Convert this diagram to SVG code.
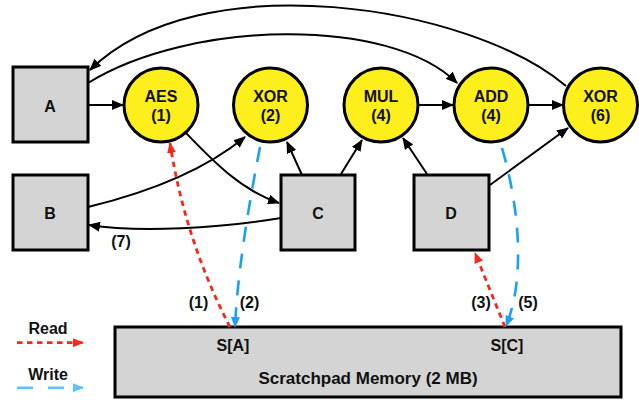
<svg xmlns="http://www.w3.org/2000/svg" width="639" height="400" viewBox="0 0 639 400">
  <style>
    .box { fill: #d4d4d4; stroke: #000; stroke-width: 3; }
    .op { fill: #fdef1b; stroke: #000; stroke-width: 3; }
    text { font-family: "Liberation Sans", Arial, Helvetica, sans-serif; font-weight: bold; fill: #111; text-anchor: middle; }
    .t16 { font-size: 16px; }
    .t17 { font-size: 17px; }
    .edge { fill: none; stroke: #000; stroke-width: 2; marker-end: url(#ah); }
    .read { fill: none; stroke: #f5281c; stroke-width: 2.8; stroke-dasharray: 5.5 4.5; marker-end: url(#ahRed); }
    .write { fill: none; stroke: #1ba0f2; stroke-width: 2.6; stroke-dasharray: 15 12; marker-end: url(#ahBlue); }
    .writeKey { fill: none; stroke: #5bc5fa; stroke-width: 2.6; stroke-dasharray: 16 15; marker-end: url(#ahBlueKey); }
  </style>
  <defs>
    <marker id="ah" viewBox="0 0 12 10" refX="11" refY="5" markerWidth="12" markerHeight="10" orient="auto" markerUnits="userSpaceOnUse">
      <path d="M0,0 L12,5 L0,10 z" fill="#000"/>
    </marker>
    <marker id="ahRed" viewBox="0 0 11 9" refX="10" refY="4.5" markerWidth="11" markerHeight="9" orient="auto" markerUnits="userSpaceOnUse">
      <path d="M0,0 L11,4.5 L0,9 z" fill="#f5281c"/>
    </marker>
    <marker id="ahBlue" viewBox="0 0 11 9" refX="10" refY="4.5" markerWidth="11" markerHeight="9" orient="auto" markerUnits="userSpaceOnUse">
      <path d="M0,0 L11,4.5 L0,9 z" fill="#1ba0f2"/>
    </marker>
    <marker id="ahBlueKey" viewBox="0 0 11 9" refX="10" refY="4.5" markerWidth="11" markerHeight="9" orient="auto" markerUnits="userSpaceOnUse">
      <path d="M0,0 L11,4.5 L0,9 z" fill="#5bc5fa"/>
    </marker>
  </defs>

  <!-- scratchpad memory -->
  <g id="memory">
    <rect class="box" x="115" y="327" width="506" height="70"/>
    <text class="t16" x="233" y="351">S[A]</text>
    <text class="t16" x="507" y="351">S[C]</text>
    <text class="t17" x="368" y="384">Scratchpad Memory (2 MB)</text>
  </g>

  <!-- input blocks -->
  <g id="node-A">
    <rect class="box" x="13" y="67" width="75" height="75"/>
    <text class="t16" x="50" y="112">A</text>
  </g>
  <g id="node-B">
    <rect class="box" x="13" y="175" width="75" height="75"/>
    <text class="t16" x="50" y="219">B</text>
  </g>
  <g id="node-C">
    <rect class="box" x="281" y="175" width="74" height="75"/>
    <text class="t16" x="318" y="219">C</text>
  </g>
  <g id="node-D">
    <rect class="box" x="414" y="175" width="75" height="75"/>
    <text class="t16" x="451" y="219">D</text>
  </g>

  <!-- operations -->
  <g id="op-aes">
    <circle class="op" cx="161" cy="105" r="37"/>
    <text class="t16" x="161" y="101.5">AES</text>
    <text class="t16" x="161" y="121">(1)</text>
  </g>
  <g id="op-xor2">
    <circle class="op" cx="270.5" cy="105" r="37"/>
    <text class="t16" x="270.5" y="101.5">XOR</text>
    <text class="t16" x="270.5" y="121">(2)</text>
  </g>
  <g id="op-mul">
    <circle class="op" cx="381" cy="105" r="37"/>
    <text class="t16" x="381" y="101.5">MUL</text>
    <text class="t16" x="381" y="121">(4)</text>
  </g>
  <g id="op-add">
    <circle class="op" cx="491" cy="105" r="37"/>
    <text class="t16" x="491" y="101.5">ADD</text>
    <text class="t16" x="491" y="121">(4)</text>
  </g>
  <g id="op-xor6">
    <circle class="op" cx="600.5" cy="105" r="37"/>
    <text class="t16" x="600.5" y="101.5">XOR</text>
    <text class="t16" x="600.5" y="121">(6)</text>
  </g>

  <!-- connectors -->
  <g id="connectors">
    <path class="edge" d="M88,105 L123,105"/>
    <path class="edge" d="M419,105 L453,105"/>
    <path class="edge" d="M529,105 L563,105"/>
    <path class="edge" d="M88,83 C190,20 390,16 457,83"/>
    <path class="edge" d="M566,86 C470,5 200,-38 90,70"/>
    <path class="edge" d="M88,207 C150,192 205,170 245,137"/>
    <path class="edge" d="M186,133 C210,158 240,190 279,203"/>
    <path class="edge" d="M281,218 C220,228 140,233 89,225"/>
    <path class="edge" d="M302,175 L287,142"/>
    <path class="edge" d="M341,174 L362,140"/>
    <path class="edge" d="M427,174 L403,138"/>
    <path class="edge" d="M490,185 L568,128"/>

    <path class="read" d="M230,327 Q185,240 170,143"/>
    <path class="read" d="M505,327 L475,253"/>
    <path class="write" d="M260,147 Q238,260 235,327"/>
    <path class="write" d="M502,148 C520,210 525,280 506,326"/>

    <text class="t16" x="121" y="246.5">(7)</text>
    <text class="t16" x="198.5" y="308">(1)</text>
    <text class="t16" x="249.5" y="308">(2)</text>
    <text class="t16" x="481" y="308">(3)</text>
    <text class="t16" x="528" y="308">(5)</text>
  </g>

  <!-- legend -->
  <g id="legend">
    <text class="t16" x="48" y="334">Read</text>
    <path class="read" d="M17,342.7 L83,342.7"/>
    <text class="t16" x="48" y="380">Write</text>
    <path class="writeKey" d="M17,387.7 L83,387.7"/>
  </g>
</svg>
